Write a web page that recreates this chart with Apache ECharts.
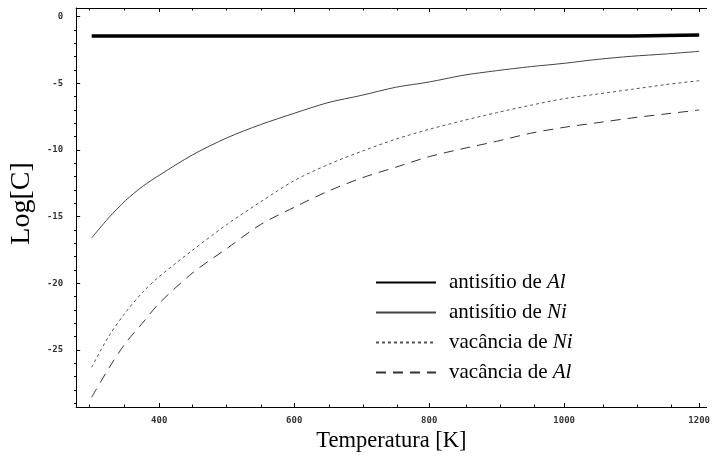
<!DOCTYPE html>
<html>
<head>
<meta charset="utf-8">
<script src="https://cdn.jsdelivr.net/npm/echarts@6/dist/echarts.min.js"></script>
<style>
html,body{margin:0;padding:0;background:#fff;}
#c{width:713px;height:460px;}
</style>
</head>
<body>
<div id="c"></div>
<script>
// Data
const temps = [300,325,350,375,400,450,500,550,600,650,700,750,800,850,900,950,1000,1050,1100,1150,1200];
const antisitioAlT = [300,1100,1100,1200];
const antisitioAlV = [-1.45,-1.45,-1.37,-1.37];
const antisitioNi = [-16.6,-15.1,-13.8,-12.75,-11.9,-10.35,-9.1,-8.1,-7.25,-6.45,-5.9,-5.3,-4.9,-4.4,-4.05,-3.75,-3.5,-3.2,-2.97,-2.8,-2.6];
const vacanciaNi = [-26.3,-24.0,-22.2,-20.7,-19.5,-17.5,-15.6,-13.9,-12.3,-11.1,-10.1,-9.2,-8.45,-7.8,-7.2,-6.65,-6.15,-5.8,-5.45,-5.1,-4.8];
const vacanciaAl = [-28.55,-26.4,-24.5,-23.0,-21.5,-19.2,-17.4,-15.6,-14.3,-13.1,-12.1,-11.3,-10.5,-9.9,-9.35,-8.75,-8.3,-7.95,-7.6,-7.3,-7.0];
const xMajorTicks = [400,600,800,1000,1200];
const xMinorTicks = [300,350,450,500,550,650,700,750,850,900,950,1050,1100,1150];
const yMajorTicks = [0,-5,-10,-15,-20,-25];
const yMinorTicks = [-1,-2,-3,-4,-6,-7,-8,-9,-11,-12,-13,-14,-16,-17,-18,-19,-21,-22,-23,-24,-26,-27,-28,-29];
const seriesNames = ['antisítio de Al','antisítio de Ni','vacância de Ni','vacância de Al'];

const zip = (xs, ys) => xs.map((x, i) => [x, ys[i]]);
const X_MIN = 277, X_MAX = 1211, Y_MIN = -29.28, Y_MAX = 0.65;
const tickFont = {fontFamily:'DejaVu Sans Mono', fontSize:9, fontWeight:'bold', color:'#333'};
const gridBox = {left:74, top:8, right:0, bottom:53, containLabel:false};

function xAx(grid, pos, ticks, len, labels, showLine) {
  return {
    type:'value', gridIndex:grid, position:pos, min:X_MIN, max:X_MAX,
    axisLine:{show:showLine, onZero:false, lineStyle:{color:'#000', width:1}},
    axisTick:{show:true, inside:true, length:len, customValues:ticks, lineStyle:{color:'#000', width:1}},
    axisLabel: labels ? Object.assign({show:true, customValues:labels, margin:9, formatter:v=>String(v)}, tickFont) : {show:false},
    splitLine:{show:false}
  };
}
function yAx(grid, ticks, len, labels, showLine) {
  return {
    type:'value', gridIndex:grid, position:'left', min:Y_MIN, max:Y_MAX,
    axisLine:{show:showLine, onZero:false, lineStyle:{color:'#000', width:1}},
    axisTick:{show:true, inside:true, length:len, customValues:ticks, lineStyle:{color:'#000', width:1}},
    axisLabel: labels ? Object.assign({show:true, customValues:labels, margin:13, formatter:v=>String(v)}, tickFont) : {show:false},
    splitLine:{show:false}
  };
}

const xAxes = [
  Object.assign(xAx(0, 'bottom', xMajorTicks, 4, xMajorTicks, true), {
    name:'Temperatura [K]', nameLocation:'middle', nameGap:21,
    nameTextStyle:{fontFamily:'Liberation Serif', fontSize:22.5, color:'#000'}
  }),
  xAx(0, 'top', xMajorTicks, 4, null, true),
  xAx(1, 'bottom', xMinorTicks, 2.5, null, false),
  xAx(1, 'top', xMinorTicks, 2.5, null, false)
];
const yAxes = [
  Object.assign(yAx(0, yMajorTicks, 4, yMajorTicks, true), {
    name:'Log[C]', nameLocation:'middle', nameGap:37, nameRotate:90,
    nameTextStyle:{fontFamily:'Liberation Serif', fontSize:28, color:'#000', padding:[0,0,0,8]}
  }),
  yAx(1, yMinorTicks, 3, null, false)
];

const richLegend = {
  n:{fontFamily:'Liberation Serif', fontSize:21, color:'#000'},
  i:{fontFamily:'Liberation Serif', fontSize:21, fontStyle:'italic', color:'#000'}
};

const chart = echarts.init(document.getElementById('c'), null, {renderer:'canvas'});
chart.setOption({
  animation:false,
  backgroundColor:'#fff',
  grid:[Object.assign({}, gridBox), Object.assign({}, gridBox)],
  xAxis:xAxes,
  yAxis:yAxes,
  legend:{
    orient:'vertical', left:370, top:267, itemWidth:60, itemHeight:20, itemGap:9,
    data:seriesNames,
    itemStyle:{opacity:0},
    formatter:function(name){
      const parts = name.split(' de ');
      return '{n|' + parts[0] + ' de }{i|' + parts[1] + '}';
    },
    textStyle:{rich:richLegend, padding:[0,0,0,8]}
  },
  series:[
    {name:seriesNames[0], type:'line', xAxisIndex:0, yAxisIndex:0, symbol:'none', data:zip(antisitioAlT, antisitioAlV),
     lineStyle:{color:'#000', width:3.5}, itemStyle:{color:'#000'}},
    {name:seriesNames[1], type:'line', xAxisIndex:0, yAxisIndex:0, symbol:'none', smooth:0.3, data:zip(temps, antisitioNi),
     lineStyle:{color:'#444', width:1}, itemStyle:{color:'#444'}},
    {name:seriesNames[2], type:'line', xAxisIndex:0, yAxisIndex:0, symbol:'none', smooth:0.3, data:zip(temps, vacanciaNi),
     lineStyle:{color:'#555', width:1, type:[3,3]}, itemStyle:{color:'#555'}},
    {name:seriesNames[3], type:'line', xAxisIndex:0, yAxisIndex:0, symbol:'none', smooth:0.3, data:zip(temps, vacanciaAl),
     lineStyle:{color:'#333', width:1, type:[10,7]}, itemStyle:{color:'#333'}}
  ]
});
</script>
</body>
</html>
